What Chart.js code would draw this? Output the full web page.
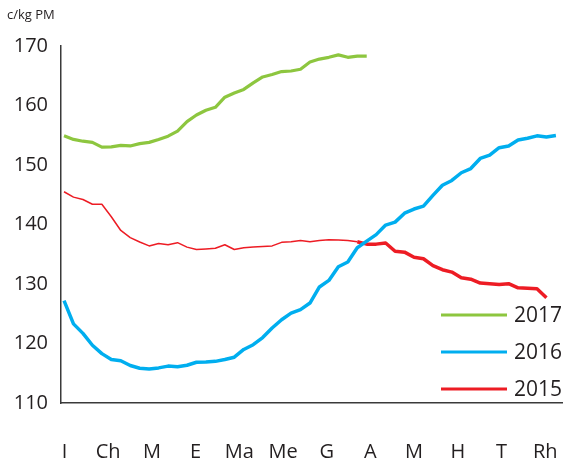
<!DOCTYPE html>
<html>
<head>
<meta charset="utf-8">
<script src="https://cdn.jsdelivr.net/npm/chart.js@4.4.1/dist/chart.umd.min.js"></script>
<style>
  html, body { margin: 0; padding: 0; background: #ffffff; }
  #wrap { width: 563px; height: 461px; }
</style>
</head>
<body>
<div id="wrap"><canvas id="c" width="563" height="461"></canvas></div>
<script>
// ---- data (c/kg PM, weekly) ----
const monthLabels = ['I', 'Ch', 'M', 'E', 'Ma', 'Me', 'G', 'A', 'M', 'H', 'T', 'Rh'];
const yTicks = [110, 120, 130, 140, 150, 160, 170];
const unitLabel = 'c/kg PM';
const seriesNames = ['2017', '2016', '2015'];

const values2017 = [154.9, 154.3, 154.0, 153.8, 153.0, 153.05, 153.3, 153.2, 153.6, 153.8,
  154.3, 154.85, 155.7, 157.3, 158.4, 159.2, 159.7, 161.4, 162.1, 162.7,
  163.8, 164.8, 165.2, 165.7, 165.8, 166.1, 167.3, 167.8, 168.1, 168.5,
  168.1, 168.3, 168.3];

const values2016 = [127.2, 123.3, 121.7, 119.7, 118.3, 117.3, 117.1, 116.3, 115.85, 115.7,
  115.9, 116.2, 116.1, 116.35, 116.85, 116.9, 117.0, 117.3, 117.7, 119.0,
  119.8, 121.0, 122.6, 124.0, 125.1, 125.7, 126.8, 129.5, 130.6, 132.9,
  133.7, 136.1, 137.2, 138.3, 139.9, 140.4, 141.9, 142.6, 143.1, 144.9,
  146.6, 147.4, 148.7, 149.4, 151.1, 151.65, 152.9, 153.2, 154.2, 154.5,
  154.9, 154.7, 154.95];

const values2015 = [145.5, 144.6, 144.2, 143.4, 143.4, 141.3, 139.0, 137.8, 137.05, 136.4,
  136.8, 136.6, 136.95, 136.2, 135.8, 135.9, 136.0, 136.6, 135.8, 136.1,
  136.2, 136.3, 136.4, 137.0, 137.1, 137.3, 137.1, 137.3, 137.45, 137.4,
  137.3, 137.1, 136.7, 136.7, 136.9, 135.5, 135.35, 134.5, 134.25, 133.1,
  132.4, 132.0, 131.05, 130.8, 130.15, 130.05, 129.9, 130.05, 129.35, 129.3,
  129.2, 127.7];

const colors = ['#8DC63F', '#00AEEF', '#ED1C24'];
const thickFrom2015 = 31; // week index where the 2015 line becomes thick

const toPoints = arr => arr.map((v, i) => ({ x: i, y: v }));
const FONT = '"Open Sans", "DejaVu Sans", sans-serif';
const TEXT = '#231F20';
const monthStep = 4.62;

const overlay = {
  id: 'overlay',
  afterDraw(chart) {
    const ctx = chart.ctx;
    ctx.save();
    // unit label
    ctx.fillStyle = TEXT;
    ctx.font = '13px ' + FONT;
    ctx.textAlign = 'left';
    ctx.textBaseline = 'middle';
    ctx.fillText(unitLabel, 7, 15);
    // legend
    const ys = [315, 352, 389];
    chart.data.datasets.forEach((ds, i) => {
      ctx.strokeStyle = ds.borderColor;
      ctx.lineWidth = 3;
      ctx.beginPath();
      ctx.moveTo(441, ys[i]);
      ctx.lineTo(507, ys[i]);
      ctx.stroke();
      ctx.fillStyle = TEXT;
      ctx.font = '21px ' + FONT;
      ctx.textBaseline = 'middle';
      ctx.fillText(ds.label, 514, ys[i] + 1);
    });
    ctx.restore();
  }
};

new Chart(document.getElementById('c'), {
  type: 'line',
  data: {
    datasets: [
      { label: seriesNames[0], data: toPoints(values2017), borderColor: colors[0], borderWidth: 3.2 },
      { label: seriesNames[1], data: toPoints(values2016), borderColor: colors[1], borderWidth: 3.5 },
      { label: seriesNames[2], data: toPoints(values2015), borderColor: colors[2], borderWidth: 1.5,
        segment: { borderWidth: c => (c.p0DataIndex >= thickFrom2015 ? 3.5 : 1.5) } }
    ]
  },
  options: {
    responsive: false,
    animation: false,
    devicePixelRatio: 1,
    layout: { padding: { top: 46, right: 0, left: 0, bottom: 0 } },
    elements: { point: { radius: 0 }, line: { tension: 0, borderJoinStyle: 'round', borderCapStyle: 'butt' } },
    plugins: { legend: { display: false }, tooltip: { enabled: false }, title: { display: false } },
    scales: {
      x: {
        type: 'linear',
        min: -0.32,
        max: 52.75,
        grid: { display: false, drawTicks: false },
        border: { display: true, color: '#3a3a3a', width: 1.5 },
        afterFit: s => { s.height = 58; s.paddingLeft = 0; s.paddingRight = 0; },
        afterBuildTicks: s => { s.ticks = monthLabels.map((l, i) => ({ value: i * monthStep + 0.05 })); },
        ticks: {
          autoSkip: false,
          maxRotation: 0,
          padding: 37,
          color: TEXT,
          font: { family: FONT, size: 20 },
          callback: (v, idx) => monthLabels[idx]
        }
      },
      y: {
        min: 110,
        max: 170,
        grid: { display: false, drawTicks: false },
        border: { display: true, color: '#3a3a3a', width: 1.5 },
        afterFit: s => { s.width = 61; s.paddingTop = 0; s.paddingBottom = 0; },
        afterBuildTicks: s => { s.ticks = yTicks.map(v => ({ value: v })); },
        ticks: {
          padding: 13,
          color: TEXT,
          font: { family: FONT, size: 20 }
        }
      }
    }
  },
  plugins: [overlay]
});
</script>
</body>
</html>
